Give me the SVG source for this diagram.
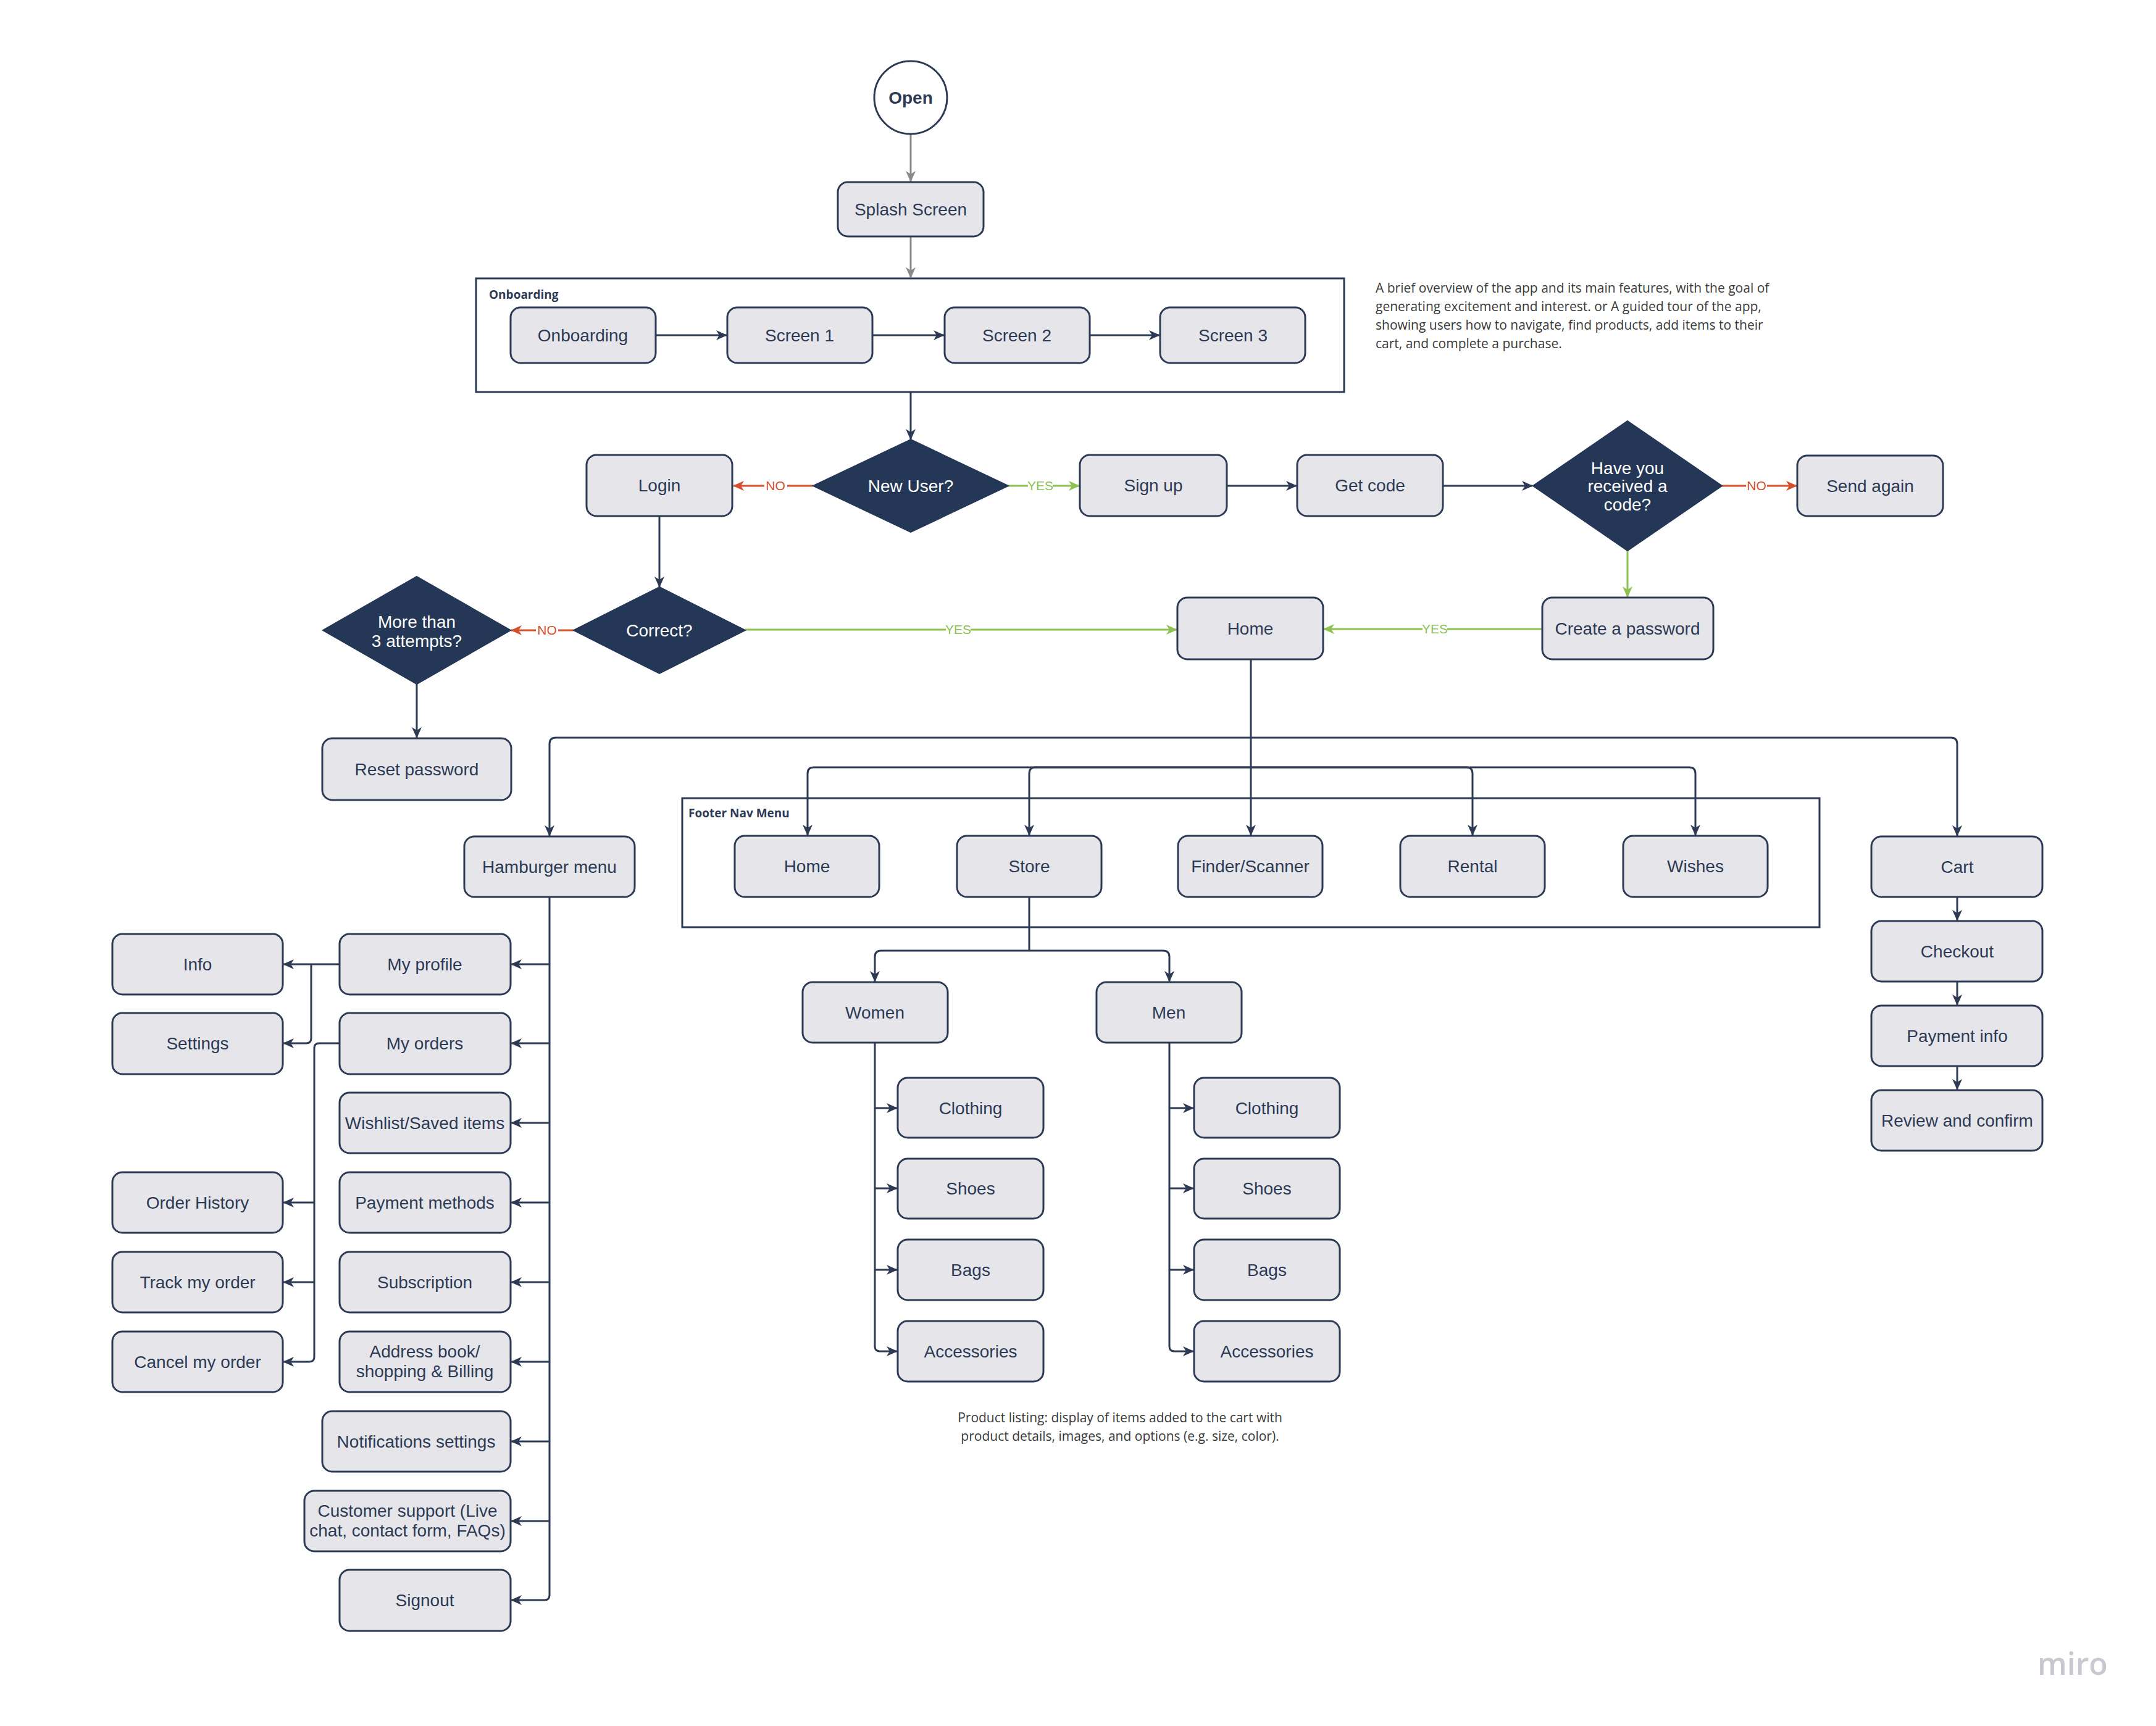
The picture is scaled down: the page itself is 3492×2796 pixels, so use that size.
<svg xmlns="http://www.w3.org/2000/svg" width="3492" height="2796" viewBox="0 0 3492 2796">
<style>
.n{fill:#e6e6ea;stroke:#2c3a54;stroke-width:3}
.d{fill:#253757;stroke:#253757;stroke-width:2}
.fr{fill:none;stroke:#2c3a54;stroke-width:3}
.t{font-family:"Liberation Sans",Arial,sans-serif;font-size:28px;fill:#2d3a55;text-anchor:middle}
.tw{font-family:"Liberation Sans",Arial,sans-serif;font-size:28px;fill:#ffffff;text-anchor:middle}
.fl{font-family:"Open Sans","Liberation Sans",sans-serif;font-size:19px;font-weight:bold;fill:#2d3a55}
.note{font-family:"Open Sans","Liberation Sans",sans-serif;font-size:21px;fill:#3a3a3a}
.c{fill:none;stroke:#2c3a54;stroke-width:3}
.cg{fill:none;stroke:#8a8a8a;stroke-width:3}
.cgr{fill:none;stroke:#8dc152;stroke-width:3}
.cr{fill:none;stroke:#d54f2a;stroke-width:3}
.lg{font-family:"Liberation Sans",Arial,sans-serif;font-size:21px;fill:#8dc152;text-anchor:middle}
.lr{font-family:"Liberation Sans",Arial,sans-serif;font-size:21px;fill:#d54f2a;text-anchor:middle}
</style>
<defs>
<marker id="an" markerUnits="userSpaceOnUse" markerWidth="18" markerHeight="16" viewBox="0 0 18 16" refX="17" refY="8" orient="auto"><path d="M0,0 L18,8 L0,16 L5,8 Z" fill="#2c3a54"/></marker>
<marker id="ag" markerUnits="userSpaceOnUse" markerWidth="18" markerHeight="16" viewBox="0 0 18 16" refX="17" refY="8" orient="auto"><path d="M0,0 L18,8 L0,16 L5,8 Z" fill="#8a8a8a"/></marker>
<marker id="agr" markerUnits="userSpaceOnUse" markerWidth="18" markerHeight="16" viewBox="0 0 18 16" refX="17" refY="8" orient="auto"><path d="M0,0 L18,8 L0,16 L5,8 Z" fill="#8dc152"/></marker>
<marker id="ar" markerUnits="userSpaceOnUse" markerWidth="18" markerHeight="16" viewBox="0 0 18 16" refX="17" refY="8" orient="auto"><path d="M0,0 L18,8 L0,16 L5,8 Z" fill="#d54f2a"/></marker>
</defs>
<rect width="3492" height="2796" fill="#ffffff"/>

<!-- frames -->
<g id="frame-onboarding"><rect class="fr" x="771" y="451" width="1406" height="184"/><text class="fl" x="792" y="484">Onboarding</text></g>
<g id="frame-footer"><rect class="fr" x="1105" y="1293" width="1842" height="209"/><text class="fl" x="1115" y="1324">Footer Nav Menu</text></g>

<g id="connectors">
<path class="cg" marker-end="url(#ag)" d="M1475,218 V294"/>
<path class="cg" marker-end="url(#ag)" d="M1475,383 V450"/>
<path class="c" marker-end="url(#an)" d="M1062,543 H1177"/>
<path class="c" marker-end="url(#an)" d="M1413,543 H1529"/>
<path class="c" marker-end="url(#an)" d="M1765,543 H1878"/>
<path class="c" marker-end="url(#an)" d="M1475,635 V712"/>
<path class="cr" d="M1317,787 H1275"/><path class="cr" marker-end="url(#ar)" d="M1238,787 H1188"/>
<path class="cgr" d="M1633,787 H1665"/><path class="cgr" marker-end="url(#agr)" d="M1705,787 H1748"/>
<path class="c" marker-end="url(#an)" d="M1987,787 H2100"/>
<path class="c" marker-end="url(#an)" d="M2337,787 H2482"/>
<path class="cr" d="M2789,787 H2828"/><path class="cr" marker-end="url(#ar)" d="M2862,787 H2910"/>
<path class="cgr" marker-end="url(#agr)" d="M2636,892 V967"/>
<path class="cgr" d="M2498,1019 H2344"/><path class="cgr" marker-end="url(#agr)" d="M2304,1019 H2144"/>
<path class="c" marker-end="url(#an)" d="M1068,836 V951"/>
<path class="cr" d="M929,1021 H904"/><path class="cr" marker-end="url(#ar)" d="M868,1021 H828"/>
<path class="cgr" d="M1207,1020 H1532"/><path class="cgr" marker-end="url(#agr)" d="M1572,1020 H1906"/>
<path class="c" marker-end="url(#an)" d="M675,1108 V1195"/>
<path class="c" marker-end="url(#an)" d="M2026,1068 V1353"/>
<path class="c" marker-end="url(#an)" d="M2026,1195 H900 Q890,1195 890,1205 V1354"/>
<path class="c" marker-end="url(#an)" d="M2026,1195 H3160 Q3170,1195 3170,1205 V1354"/>
<path class="c" marker-end="url(#an)" d="M2026,1243 H1318 Q1308,1243 1308,1253 V1353"/>
<path class="c" marker-end="url(#an)" d="M2026,1243 H1677 Q1667,1243 1667,1253 V1353"/>
<path class="c" marker-end="url(#an)" d="M2026,1243 H2375 Q2385,1243 2385,1253 V1353"/>
<path class="c" marker-end="url(#an)" d="M2026,1243 H2736 Q2746,1243 2746,1253 V1353"/>
<path class="c" d="M1667,1453 V1540"/>
<path class="c" marker-end="url(#an)" d="M1667,1540 H1427 Q1417,1540 1417,1550 V1590"/>
<path class="c" marker-end="url(#an)" d="M1667,1540 H1884 Q1894,1540 1894,1550 V1590"/>
<path class="c" marker-end="url(#an)" d="M1417,1689 V2181 Q1417,2189 1425,2189 H1453"/>
<path class="c" marker-end="url(#an)" d="M1417,1795 H1453"/>
<path class="c" marker-end="url(#an)" d="M1417,1925 H1453"/>
<path class="c" marker-end="url(#an)" d="M1417,2057 H1453"/>
<path class="c" marker-end="url(#an)" d="M1894,1689 V2181 Q1894,2189 1902,2189 H1933"/>
<path class="c" marker-end="url(#an)" d="M1894,1795 H1933"/>
<path class="c" marker-end="url(#an)" d="M1894,1925 H1933"/>
<path class="c" marker-end="url(#an)" d="M1894,2057 H1933"/>
<path class="c" marker-end="url(#an)" d="M3170,1453 V1491"/>
<path class="c" marker-end="url(#an)" d="M3170,1590 V1628"/>
<path class="c" marker-end="url(#an)" d="M3170,1727 V1765"/>
<path class="c" marker-end="url(#an)" d="M890,1453 V2584 Q890,2592 882,2592 H828"/>
<path class="c" marker-end="url(#an)" d="M890,1562 H828"/>
<path class="c" marker-end="url(#an)" d="M890,1690 H828"/>
<path class="c" marker-end="url(#an)" d="M890,1819 H828"/>
<path class="c" marker-end="url(#an)" d="M890,1948 H828"/>
<path class="c" marker-end="url(#an)" d="M890,2077 H828"/>
<path class="c" marker-end="url(#an)" d="M890,2206 H828"/>
<path class="c" marker-end="url(#an)" d="M890,2335 H828"/>
<path class="c" marker-end="url(#an)" d="M890,2464 H828"/>
<path class="c" marker-end="url(#an)" d="M550,1562 H459"/>
<path class="c" marker-end="url(#an)" d="M504,1562 V1682 Q504,1690 496,1690 H459"/>
<path class="c" marker-end="url(#an)" d="M550,1690 H517 Q509,1690 509,1698 V2198 Q509,2206 501,2206 H459"/>
<path class="c" marker-end="url(#an)" d="M509,1948 H459"/>
<path class="c" marker-end="url(#an)" d="M509,2077 H459"/>
<text class="lr" x="1256" y="794">NO</text>
<text class="lg" x="1685" y="794">YES</text>
<text class="lr" x="2845" y="794">NO</text>
<text class="lg" x="2324" y="1026">YES</text>
<text class="lr" x="886" y="1028">NO</text>
<text class="lg" x="1552" y="1027">YES</text>
</g>

<g id="open"><circle cx="1475" cy="158" r="59" fill="#ffffff" stroke="#2c3a54" stroke-width="3"/><text class="t" x="1475" y="168" font-weight="bold">Open</text></g>
<g id="splash"><rect class="n" x="1357" y="295" width="236" height="88" rx="16"/><text class="t" x="1475" y="349">Splash Screen</text></g>
<g id="onboarding"><rect class="n" x="827" y="498" width="235" height="90" rx="16"/><text class="t" x="944" y="553">Onboarding</text></g>
<g id="screen1"><rect class="n" x="1178" y="498" width="235" height="90" rx="16"/><text class="t" x="1295" y="553">Screen 1</text></g>
<g id="screen2"><rect class="n" x="1530" y="498" width="235" height="90" rx="16"/><text class="t" x="1647" y="553">Screen 2</text></g>
<g id="screen3"><rect class="n" x="1879" y="498" width="235" height="90" rx="16"/><text class="t" x="1997" y="553">Screen 3</text></g>
<g id="new-user"><polygon class="d" points="1475,712 1633,787 1475,862 1317,787"/><text class="tw" x="1475" y="797">New User?</text></g>
<g id="login"><rect class="n" x="950" y="737" width="236" height="99" rx="16"/><text class="t" x="1068" y="796">Login</text></g>
<g id="signup"><rect class="n" x="1749" y="737" width="238" height="99" rx="16"/><text class="t" x="1868" y="796">Sign up</text></g>
<g id="getcode"><rect class="n" x="2101" y="737" width="236" height="99" rx="16"/><text class="t" x="2219" y="796">Get code</text></g>
<g id="received"><polygon class="d" points="2636,682 2789,787 2636,892 2483,787"/><text class="tw" x="2636" y="768">Have you</text><text class="tw" x="2636" y="797">received a</text><text class="tw" x="2636" y="827">code?</text></g>
<g id="sendagain"><rect class="n" x="2911" y="738" width="236" height="98" rx="16"/><text class="t" x="3029" y="797">Send again</text></g>
<g id="correct"><polygon class="d" points="1068,951 1207,1021 1068,1091 929,1021"/><text class="tw" x="1068" y="1031">Correct?</text></g>
<g id="attempts"><polygon class="d" points="675,934 827,1021 675,1108 523,1021"/><text class="tw" x="675" y="1017">More than</text><text class="tw" x="675" y="1048">3 attempts?</text></g>
<g id="reset"><rect class="n" x="522" y="1196" width="306" height="100" rx="16"/><text class="t" x="675" y="1256">Reset password</text></g>
<g id="home"><rect class="n" x="1907" y="968" width="236" height="100" rx="16"/><text class="t" x="2025" y="1028">Home</text></g>
<g id="createpw"><rect class="n" x="2498" y="968" width="277" height="100" rx="16"/><text class="t" x="2636" y="1028">Create a password</text></g>
<g id="f-home"><rect class="n" x="1190" y="1354" width="234" height="99" rx="16"/><text class="t" x="1307" y="1413">Home</text></g>
<g id="f-store"><rect class="n" x="1550" y="1354" width="234" height="99" rx="16"/><text class="t" x="1667" y="1413">Store</text></g>
<g id="f-finder"><rect class="n" x="1908" y="1354" width="234" height="99" rx="16"/><text class="t" x="2025" y="1413">Finder/Scanner</text></g>
<g id="f-rental"><rect class="n" x="2268" y="1354" width="234" height="99" rx="16"/><text class="t" x="2385" y="1413">Rental</text></g>
<g id="f-wishes"><rect class="n" x="2629" y="1354" width="234" height="99" rx="16"/><text class="t" x="2746" y="1413">Wishes</text></g>
<g id="hamburger"><rect class="n" x="752" y="1355" width="276" height="98" rx="16"/><text class="t" x="890" y="1414">Hamburger menu</text></g>
<g id="cart"><rect class="n" x="3031" y="1355" width="277" height="98" rx="16"/><text class="t" x="3170" y="1414">Cart</text></g>
<g id="checkout"><rect class="n" x="3031" y="1492" width="277" height="98" rx="16"/><text class="t" x="3170" y="1551">Checkout</text></g>
<g id="paymentinfo"><rect class="n" x="3031" y="1629" width="277" height="98" rx="16"/><text class="t" x="3170" y="1688">Payment info</text></g>
<g id="review"><rect class="n" x="3031" y="1766" width="277" height="98" rx="16"/><text class="t" x="3170" y="1825">Review and confirm</text></g>
<g id="women"><rect class="n" x="1300" y="1591" width="235" height="98" rx="16"/><text class="t" x="1417" y="1650">Women</text></g>
<g id="men"><rect class="n" x="1776" y="1591" width="235" height="98" rx="16"/><text class="t" x="1893" y="1650">Men</text></g>
<g id="w-clothing"><rect class="n" x="1454" y="1746" width="236" height="97" rx="16"/><text class="t" x="1572" y="1805">Clothing</text></g>
<g id="w-shoes"><rect class="n" x="1454" y="1877" width="236" height="97" rx="16"/><text class="t" x="1572" y="1935">Shoes</text></g>
<g id="w-bags"><rect class="n" x="1454" y="2008" width="236" height="98" rx="16"/><text class="t" x="1572" y="2067">Bags</text></g>
<g id="w-accessories"><rect class="n" x="1454" y="2140" width="236" height="98" rx="16"/><text class="t" x="1572" y="2199">Accessories</text></g>
<g id="m-clothing"><rect class="n" x="1934" y="1746" width="236" height="97" rx="16"/><text class="t" x="2052" y="1805">Clothing</text></g>
<g id="m-shoes"><rect class="n" x="1934" y="1877" width="236" height="97" rx="16"/><text class="t" x="2052" y="1935">Shoes</text></g>
<g id="m-bags"><rect class="n" x="1934" y="2008" width="236" height="98" rx="16"/><text class="t" x="2052" y="2067">Bags</text></g>
<g id="m-accessories"><rect class="n" x="1934" y="2140" width="236" height="98" rx="16"/><text class="t" x="2052" y="2199">Accessories</text></g>
<g id="info"><rect class="n" x="182" y="1513" width="276" height="98" rx="16"/><text class="t" x="320" y="1572">Info</text></g>
<g id="settings"><rect class="n" x="182" y="1641" width="276" height="99" rx="16"/><text class="t" x="320" y="1700">Settings</text></g>
<g id="orderhistory"><rect class="n" x="182" y="1899" width="276" height="98" rx="16"/><text class="t" x="320" y="1958">Order History</text></g>
<g id="track"><rect class="n" x="182" y="2028" width="276" height="98" rx="16"/><text class="t" x="320" y="2087">Track my order</text></g>
<g id="cancel"><rect class="n" x="182" y="2157" width="276" height="98" rx="16"/><text class="t" x="320" y="2216">Cancel my order</text></g>
<g id="myprofile"><rect class="n" x="550" y="1513" width="277" height="98" rx="16"/><text class="t" x="688" y="1572">My profile</text></g>
<g id="myorders"><rect class="n" x="550" y="1641" width="277" height="99" rx="16"/><text class="t" x="688" y="1700">My orders</text></g>
<g id="wishlist"><rect class="n" x="550" y="1770" width="277" height="98" rx="16"/><text class="t" x="688" y="1829">Wishlist/Saved items</text></g>
<g id="paymentmethods"><rect class="n" x="550" y="1899" width="277" height="98" rx="16"/><text class="t" x="688" y="1958">Payment methods</text></g>
<g id="subscription"><rect class="n" x="550" y="2028" width="277" height="98" rx="16"/><text class="t" x="688" y="2087">Subscription</text></g>
<g id="addressbook"><rect class="n" x="550" y="2157" width="277" height="98" rx="16"/><text class="t" x="688" y="2199">Address book/</text><text class="t" x="688" y="2231">shopping &amp; Billing</text></g>
<g id="notifications"><rect class="n" x="522" y="2286" width="305" height="98" rx="16"/><text class="t" x="674" y="2345">Notifications settings</text></g>
<g id="support"><rect class="n" x="493" y="2415" width="334" height="98" rx="16"/><text class="t" x="660" y="2457">Customer support (Live</text><text class="t" x="660" y="2489">chat, contact form, FAQs)</text></g>
<g id="signout"><rect class="n" x="550" y="2543" width="277" height="99" rx="16"/><text class="t" x="688" y="2602">Signout</text></g>

<g id="note-onboarding"><text class="note" x="2228" y="474">A brief overview of the app and its main features, with the goal of</text><text class="note" x="2228" y="504">generating excitement and interest. or A guided tour of the app,</text><text class="note" x="2228" y="534">showing users how to navigate, find products, add items to their</text><text class="note" x="2228" y="564">cart, and complete a purchase.</text></g>
<g id="note-product"><text class="note" x="1814" y="2304" text-anchor="middle">Product listing: display of items added to the cart with</text><text class="note" x="1814" y="2334" text-anchor="middle">product details, images, and options (e.g. size, color).</text></g>
<text x="3300" y="2713" font-family="'Open Sans','Liberation Sans',sans-serif" font-size="50" font-weight="600" fill="#c7c8d1">miro</text>
</svg>
